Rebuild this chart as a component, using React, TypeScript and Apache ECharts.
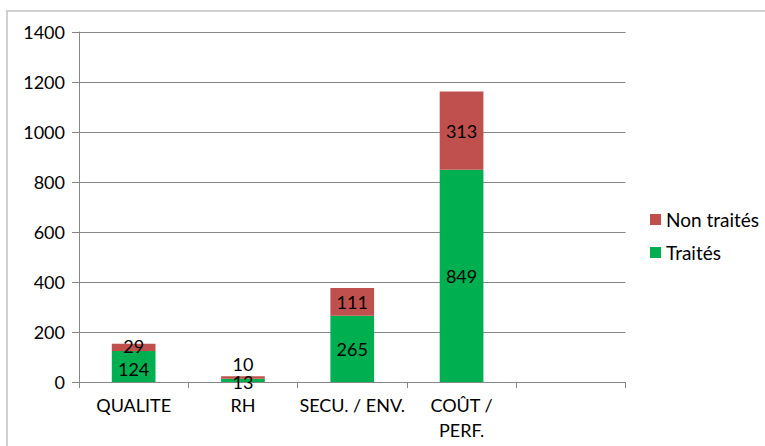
import React, { useEffect, useRef } from "react";
import * as echarts from "echarts";

const categories = ["QUALITE", "RH", "SECU. / ENV.", "COÛT / PERF.", ""];
const traites = [124, 13, 265, 849];
const nonTraites = [29, 10, 111, 313];
const yTicks = { min: 0, max: 1400, interval: 200 };

const FONT = "Lato, 'Open Sans', sans-serif";

export default function App() {
  const ref = useRef<HTMLDivElement>(null);
  useEffect(() => {
    if (!ref.current) return;
    const chart = echarts.init(ref.current, undefined, { renderer: "svg" });
    const labelStyle = {
      show: true,
      position: "inside" as const,
      color: "#000",
      fontSize: 18,
      fontFamily: FONT,
    };
    chart.setOption({
      animation: false,
      textStyle: { fontFamily: FONT },
      graphic: [
        {
          type: "rect",
          shape: { x: 7, y: 11, width: 800, height: 500 },
          style: { fill: "none", stroke: "#d0d0d0", lineWidth: 2 },
          silent: true,
        },
      ],
      grid: { left: 79, right: 139.5, top: 32, bottom: 64, containLabel: false },
      legend: {
        data: ["Non traités", "Traités"],
        orient: "vertical",
        left: 645,
        top: 205,
        itemWidth: 11,
        itemHeight: 11,
        itemGap: 14,
        icon: "rect",
        textStyle: { fontSize: 19, color: "#000", fontFamily: FONT },
      },
      xAxis: {
        type: "category",
        data: categories,
        axisLine: { lineStyle: { color: "#868686", width: 1 } },
        axisTick: { show: true, length: 6, lineStyle: { color: "#868686" } },
        axisLabel: {
          color: "#000",
          fontSize: 18,
          fontFamily: FONT,
          margin: 10,
          lineHeight: 25,
          interval: 0,
          formatter: (v: string) => v.replace("COÛT / ", "COÛT /\n"),
        },
      },
      yAxis: {
        type: "value",
        min: yTicks.min,
        max: yTicks.max,
        interval: yTicks.interval,
        axisLine: { show: true, lineStyle: { color: "#868686" } },
        axisTick: { show: true, length: 7, lineStyle: { color: "#868686" } },
        splitLine: { lineStyle: { color: "#868686", width: 1 } },
        axisLabel: {
          color: "#000",
          fontSize: 18,
          fontFamily: FONT,
          margin: 14,
          formatter: (v: number) => String(v),
        },
      },
      series: [
        {
          name: "Traités",
          type: "bar",
          stack: "total",
          barWidth: "40%",
          itemStyle: { color: "#00B050" },
          label: labelStyle,
          data: traites.map((v, i) =>
            i === 1 ? { value: v, label: { offset: [0, 2] } } : i === 0 ? { value: v, label: { offset: [0, 2] } } : v
          ),
        },
        {
          name: "Non traités",
          type: "bar",
          stack: "total",
          barWidth: "40%",
          itemStyle: { color: "#C0504D" },
          label: labelStyle,
          data: nonTraites.map((v, i) =>
            i === 1
              ? { value: v, label: { offset: [0, -14] } }
              : i === 0
              ? { value: v, label: { offset: [0, -1] } }
              : v
          ),
        },
      ],
    });
    return () => chart.dispose();
  }, []);
  return (
    <div
      ref={ref}
      style={{ position: "fixed", left: 0, top: 0, width: 765, height: 446, background: "#fff" }}
    />
  );
}
